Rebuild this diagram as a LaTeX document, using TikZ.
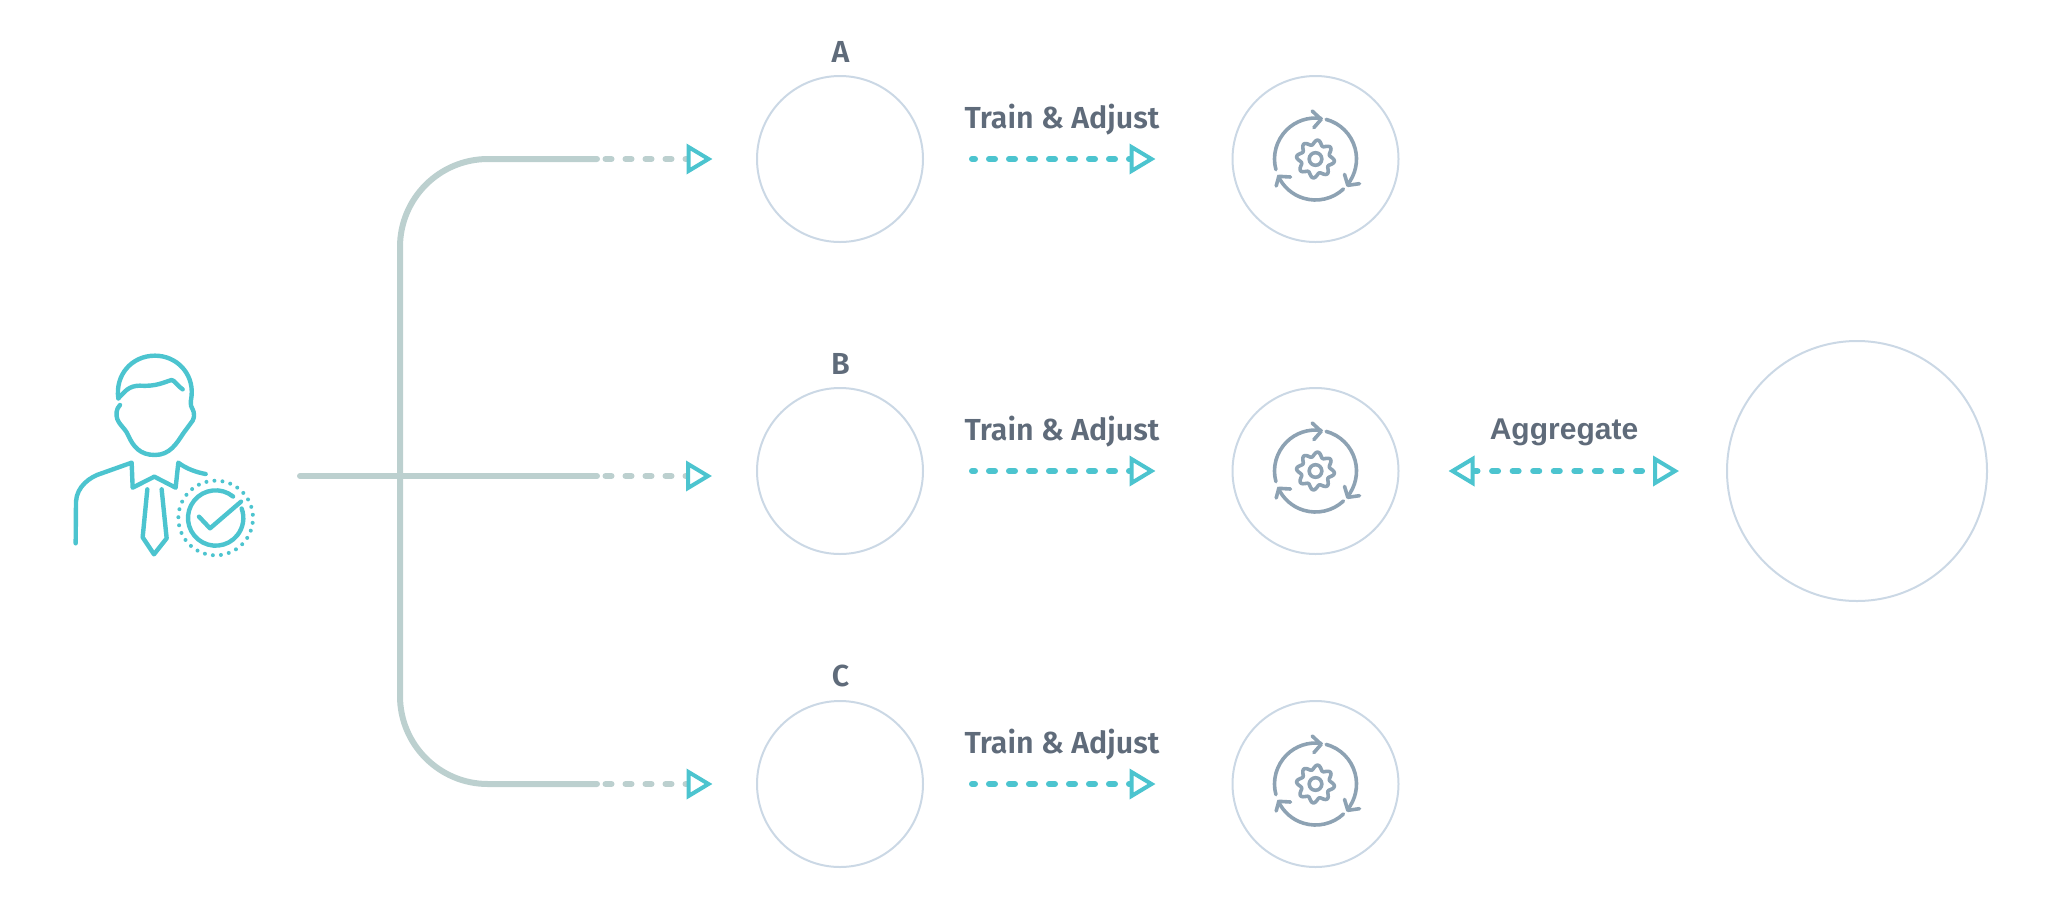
\documentclass[tikz,border=0pt]{standalone}
\usepackage{fontspec}
\setmainfont{Fira Sans}[UprightFont=* SemiBold]
\newfontfamily\aggfont{Liberation Sans}[UprightFont=* Bold]
\usetikzlibrary{arrows.meta}
\definecolor{teal}{HTML}{4CC4CF}
\definecolor{bus}{HTML}{BCD0CF}
\definecolor{ring}{HTML}{CBD8E5}
\definecolor{ink}{HTML}{5F6B7A}
\definecolor{iconc}{HTML}{8DA2B3}
\tikzset{
  smallcirc/.style={circle,draw=ring,line width=2pt,minimum size=166pt,inner sep=0pt,outer sep=0pt},
  bigcirc/.style={circle,draw=ring,line width=2pt,minimum size=260pt,inner sep=0pt,outer sep=0pt},
  lab/.style={anchor=base,text=ink,font=\fontsize{30.4}{30.4}\selectfont,inner sep=0pt},
  tipb/.tip={Triangle[open,length=26pt,width=30pt,line width=4pt,fill=white,color=teal]},
  teald/.style={draw=teal,line width=6pt,line cap=round,dash pattern=on 6pt off 14pt},
  busd/.style={draw=bus,line width=6pt,line cap=round,dash pattern=on 6pt off 14pt},
  icon/.style={line width=4.4pt,draw=teal,line cap=round,line join=round},
  gearicon/.pic={
    \begin{scope}[x=.3333pt,y=.3333pt,line width=3.6pt,draw=iconc,line cap=round,line join=round]
      \draw (195:41pt) arc[start angle=195,end angle=82,radius=41pt];
      \draw (-10,144) -- (17,119) -- (-5,94);
      \draw (75:41pt) arc[start angle=75,end angle=-39,radius=41pt];
      \draw (87,-46) -- (97,-79) -- (132,-74);
      \draw (-47:41pt) arc[start angle=-47,end angle=-155,radius=41pt];
      \draw (-118,-81) -- (-110,-52) -- (-75,-54);
      \draw plot[smooth,domain=0:360,samples=97] (\x:{50+7*cos(8*(\x-83))});
      \draw (0,0) circle[radius=6.3pt];
    \end{scope}
  }
}
\begin{document}
\begin{tikzpicture}[x=1pt,y=-1pt]
\useasboundingbox (0,0) rectangle (2062,906);
% circles
\node[smallcirc] (a) at (840,159) {};
\node[smallcirc] (b) at (840,471) {};
\node[smallcirc] (c) at (840,784) {};
\node[smallcirc] (ga) at (1315.5,159) {};
\node[smallcirc] (gb) at (1315.5,471) {};
\node[smallcirc] (gc) at (1315.5,784) {};
\node[bigcirc] (big) at (1857,471) {};
\pic at (ga) {gearicon};
\pic at (gb) {gearicon};
\pic at (gc) {gearicon};
% labels
\node[lab] (la) at (840.5,62) {A};
\node[lab] (lb) at (840.5,374) {B};
\node[lab] (lc) at (840.5,686) {C};
\node[lab] (ta) at (1062,128) {Train \& Adjust};
\node[lab] (tb) at (1062,440) {Train \& Adjust};
\node[lab] (tc) at (1062,753) {Train \& Adjust};
\node[lab,font=\aggfont\fontsize{30}{30}\selectfont] (ag) at (1564,439) {Aggregate};
% bus
\coordinate (start) at (300,476);
\coordinate (midend) at (597,476);
\coordinate (topend) at (597,159);
\coordinate (botend) at (597,784);
\coordinate (midd) at (605.5,476);
\coordinate (topd) at (605.5,159);
\coordinate (botd) at (605.5,784);
\coordinate (midhead) at (712,476);
\draw[bus,line width=6pt,line cap=round] (start) -- (midend);
\draw[bus,line width=6pt,line cap=round,rounded corners=88pt] (topend) -- (400,159) -- (400,784) -- (botend);
\draw[busd,-{tipb}] (topd) -- ([xshift=-44.5pt]a.west);
\draw[busd,-{tipb}] (midd) -- (midhead);
\draw[busd,-{tipb}] (botd) -- ([xshift=-44.5pt]c.west);
% train arrows
\foreach \p/\q in {a/ga,b/gb,c/gc}{
  \draw[teald,dash phase=3pt,-{tipb},shorten <=49pt,shorten >=77pt] (\p) -- (\q);
}
\draw[draw=teal,line width=6pt,line cap=round,dash pattern=on 6pt off 14.57pt,dash phase=2pt,{tipb}-{tipb},shorten <=50pt,shorten >=48pt] (gb) -- (big);
% person
\begin{scope}[shift={(60,345)},x=.3333pt,y=-.3333pt]
  \draw[icon] (175,160) .. controls (165,90) and (215,32) .. (285,32) .. controls (350,32) and (400,85) .. (395,150) .. controls (394,165) and (390,172) .. (393,182) .. controls (398,195) and (408,205) .. (398,227) -- (370,265) .. controls (350,295) and (330,330) .. (285,330) .. controls (240,330) and (220,305) .. (205,272) .. controls (195,245) and (165,235) .. (170,200) .. controls (170,192) and (175,187) .. (180,180);
  \draw[icon] (175,160) .. controls (195,140) and (205,122) .. (240,122) .. controls (290,125) and (310,112) .. (335,105) .. controls (345,107) and (350,120) .. (368,133);
  \draw[icon] (47,595) -- (48,470) .. controls (50,425) and (90,395) .. (125,385) -- (215,353) -- (218,428) -- (283,395) -- (347,428) -- (355,353) .. controls (380,372) and (410,382) .. (437,387);
  \draw[icon] (262,433) -- (248,577) -- (282,628) -- (320,580) -- (305,433);
\end{scope}
\begin{scope}[shift={(215.67,518)},x=.3333pt,y=.3333pt]
  \draw[icon] (51:27.67pt) arc[start angle=51,end angle=380,radius=27.67pt];
  \draw[icon] (-50,4) -- (-17,-31) -- (76,49);
  \foreach \k in {0,...,28}{
    \fill[teal] ({\k*360/29+5}:37.3pt) circle[radius=2pt];
  }
\end{scope}
\end{tikzpicture}
\end{document}
